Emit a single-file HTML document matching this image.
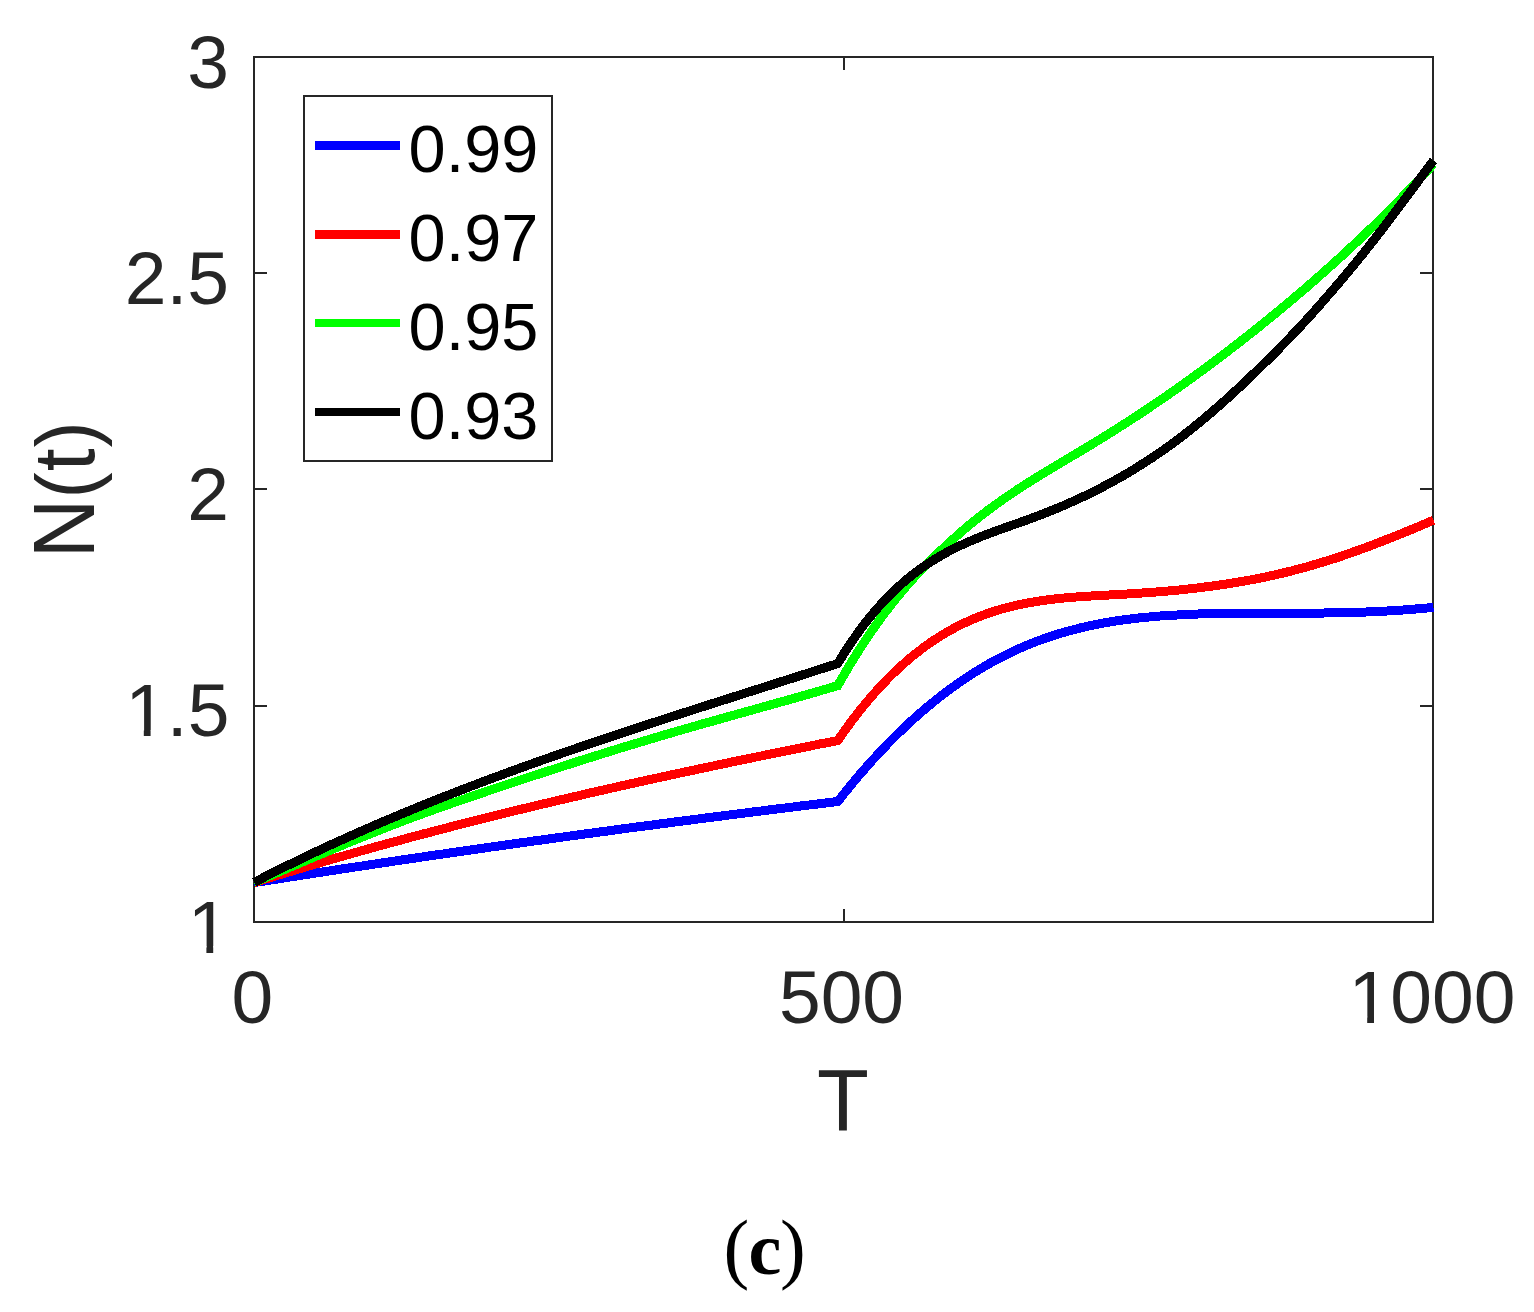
<!DOCTYPE html>
<html lang="en">
<head>
<meta charset="utf-8">
<title>N(t) versus T</title>
<style>
html,body{margin:0;padding:0;background:#fff;}
body{width:1534px;height:1312px;overflow:hidden;}
svg{display:block;}
text{font-family:"Liberation Sans",sans-serif;}
.tk{font-size:75px;fill:#262626;}
.lb{font-size:82.5px;fill:#262626;}
.lg{font-size:66.7px;fill:#000;}
.cp{font-family:"Liberation Serif",serif;fill:#000;}
</style>
</head>
<body>
<svg width="1534" height="1312" viewBox="0 0 1534 1312">
<rect x="0" y="0" width="1534" height="1312" fill="#ffffff"/>
<g fill="none" stroke="#262626" stroke-width="2" shape-rendering="crispEdges">
<rect x="254" y="57" width="1179" height="865"/>
<line x1="844" y1="922" x2="844" y2="909"/>
<line x1="844" y1="57" x2="844" y2="70"/>
<line x1="254" y1="273" x2="267" y2="273"/>
<line x1="1433" y1="273" x2="1420" y2="273"/>
<line x1="254" y1="489" x2="267" y2="489"/>
<line x1="1433" y1="489" x2="1420" y2="489"/>
<line x1="254" y1="706" x2="267" y2="706"/>
<line x1="1433" y1="706" x2="1420" y2="706"/>
</g>
<g fill="none" stroke-width="9" stroke-linejoin="miter" stroke-linecap="butt" shape-rendering="crispEdges">
<path stroke="#0000ff" d="M254.0 882.7 L257.0 882.2 L260.0 881.7 L263.0 881.3 L266.0 880.8 L269.0 880.3 L272.0 879.9 L275.0 879.4 L278.0 878.9 L281.0 878.4 L284.0 878.0 L287.0 877.5 L290.0 877.0 L293.0 876.6 L296.0 876.1 L299.0 875.6 L302.0 875.2 L305.0 874.7 L308.0 874.2 L311.0 873.8 L314.0 873.3 L317.0 872.8 L320.0 872.4 L323.0 871.9 L326.0 871.4 L329.0 871.0 L332.0 870.5 L335.0 870.1 L338.0 869.6 L341.0 869.1 L344.0 868.7 L347.0 868.2 L350.0 867.8 L353.0 867.3 L356.0 866.9 L359.0 866.4 L362.0 866.0 L365.0 865.5 L368.0 865.1 L371.0 864.6 L374.0 864.2 L377.0 863.7 L380.0 863.3 L383.0 862.8 L386.0 862.4 L389.0 861.9 L392.0 861.5 L395.0 861.0 L398.0 860.6 L401.0 860.1 L404.0 859.7 L407.0 859.2 L410.0 858.8 L413.0 858.3 L416.0 857.9 L419.0 857.5 L422.0 857.0 L425.0 856.6 L428.0 856.1 L431.0 855.7 L434.0 855.3 L437.0 854.8 L440.0 854.4 L443.0 854.0 L446.0 853.5 L449.0 853.1 L452.0 852.6 L455.0 852.2 L458.0 851.8 L461.0 851.3 L464.0 850.9 L467.0 850.5 L470.0 850.1 L473.0 849.6 L476.0 849.2 L479.0 848.8 L482.0 848.3 L485.0 847.9 L488.0 847.5 L491.0 847.0 L494.0 846.6 L497.0 846.2 L500.0 845.8 L503.0 845.3 L506.0 844.9 L509.0 844.5 L512.0 844.1 L515.0 843.7 L518.0 843.2 L521.0 842.8 L524.0 842.4 L527.0 842.0 L530.0 841.6 L533.0 841.1 L536.0 840.7 L539.0 840.3 L542.0 839.9 L545.0 839.5 L548.0 839.1 L551.0 838.6 L554.0 838.2 L557.0 837.8 L560.0 837.4 L563.0 837.0 L566.0 836.6 L569.0 836.2 L572.0 835.7 L575.0 835.3 L578.0 834.9 L581.0 834.5 L584.0 834.1 L587.0 833.7 L590.0 833.3 L593.0 832.9 L596.0 832.5 L599.0 832.1 L602.0 831.7 L605.0 831.3 L608.0 830.9 L611.0 830.5 L614.0 830.1 L617.0 829.6 L620.0 829.2 L623.0 828.8 L626.0 828.4 L629.0 828.0 L632.0 827.6 L635.0 827.2 L638.0 826.8 L641.0 826.4 L644.0 826.1 L647.0 825.7 L650.0 825.3 L653.0 824.9 L656.0 824.5 L659.0 824.1 L662.0 823.7 L665.0 823.3 L668.0 822.9 L671.0 822.5 L674.0 822.1 L677.0 821.7 L680.0 821.3 L683.0 820.9 L686.0 820.5 L689.0 820.2 L692.0 819.8 L695.0 819.4 L698.0 819.0 L701.0 818.6 L704.0 818.2 L707.0 817.8 L710.0 817.4 L713.0 817.1 L716.0 816.7 L719.0 816.3 L722.0 815.9 L725.0 815.5 L728.0 815.1 L731.0 814.8 L734.0 814.4 L737.0 814.0 L740.0 813.6 L743.0 813.2 L746.0 812.9 L749.0 812.5 L752.0 812.1 L755.0 811.7 L758.0 811.3 L761.0 811.0 L764.0 810.6 L767.0 810.2 L770.0 809.8 L773.0 809.5 L776.0 809.1 L779.0 808.7 L782.0 808.3 L785.0 808.0 L788.0 807.6 L791.0 807.2 L794.0 806.9 L797.0 806.5 L800.0 806.1 L803.0 805.7 L806.0 805.4 L809.0 805.0 L812.0 804.6 L815.0 804.3 L818.0 803.9 L821.0 803.5 L824.0 803.2 L827.0 802.8 L830.0 802.4 L833.0 802.1 L836.0 801.7 L837.8 801.5 L840.8 797.7 L843.8 793.9 L846.8 790.2 L849.8 786.5 L852.8 782.9 L855.8 779.3 L858.8 775.7 L861.8 772.3 L864.8 768.8 L867.8 765.4 L870.8 762.0 L873.8 758.7 L876.8 755.5 L879.8 752.2 L882.8 749.1 L885.8 745.9 L888.8 742.8 L891.8 739.8 L894.8 736.8 L897.8 733.8 L900.8 730.9 L903.8 728.0 L906.8 725.2 L909.8 722.4 L912.8 719.7 L915.8 717.0 L918.8 714.3 L921.8 711.7 L924.8 709.1 L927.8 706.6 L930.8 704.1 L933.8 701.7 L936.8 699.3 L939.8 696.9 L942.8 694.6 L945.8 692.3 L948.8 690.0 L951.8 687.8 L954.8 685.7 L957.8 683.6 L960.8 681.5 L963.8 679.4 L966.8 677.4 L969.8 675.5 L972.8 673.5 L975.8 671.6 L978.8 669.8 L981.8 668.0 L984.8 666.2 L987.8 664.5 L990.8 662.8 L993.8 661.1 L996.8 659.5 L999.8 657.9 L1002.8 656.4 L1005.8 654.9 L1008.8 653.4 L1011.8 652.0 L1014.8 650.6 L1017.8 649.2 L1020.8 647.9 L1023.8 646.6 L1026.8 645.3 L1029.8 644.1 L1032.8 642.9 L1035.8 641.7 L1038.8 640.6 L1041.8 639.5 L1044.8 638.4 L1047.8 637.4 L1050.8 636.4 L1053.8 635.4 L1056.8 634.4 L1059.8 633.5 L1062.8 632.6 L1065.8 631.8 L1068.8 630.9 L1071.8 630.1 L1074.8 629.3 L1077.8 628.6 L1080.8 627.8 L1083.8 627.1 L1086.8 626.4 L1089.8 625.8 L1092.8 625.1 L1095.8 624.5 L1098.8 623.9 L1101.8 623.4 L1104.8 622.8 L1107.8 622.3 L1110.8 621.8 L1113.8 621.3 L1116.8 620.8 L1119.8 620.4 L1122.8 620.0 L1125.8 619.6 L1128.8 619.2 L1131.8 618.8 L1134.8 618.4 L1137.8 618.1 L1140.8 617.8 L1143.8 617.5 L1146.8 617.2 L1149.8 616.9 L1152.8 616.6 L1155.8 616.4 L1158.8 616.1 L1161.8 615.9 L1164.8 615.7 L1167.8 615.5 L1170.8 615.3 L1173.8 615.1 L1176.8 615.0 L1179.8 614.8 L1182.8 614.7 L1185.8 614.5 L1188.8 614.4 L1191.8 614.3 L1194.8 614.2 L1197.8 614.0 L1200.8 613.9 L1203.8 613.9 L1206.8 613.8 L1209.8 613.7 L1212.8 613.6 L1215.8 613.6 L1218.8 613.5 L1221.8 613.4 L1224.8 613.4 L1227.8 613.3 L1230.8 613.3 L1233.8 613.3 L1236.8 613.2 L1239.8 613.2 L1242.8 613.2 L1245.8 613.2 L1248.8 613.2 L1251.8 613.1 L1254.8 613.1 L1257.8 613.1 L1260.8 613.1 L1263.8 613.1 L1266.8 613.1 L1269.8 613.1 L1272.8 613.1 L1275.8 613.1 L1278.8 613.1 L1281.8 613.1 L1284.8 613.1 L1287.8 613.1 L1290.8 613.1 L1293.8 613.1 L1296.8 613.1 L1299.8 613.1 L1302.8 613.1 L1305.8 613.1 L1308.8 613.1 L1311.8 613.0 L1314.8 613.0 L1317.8 613.0 L1320.8 613.0 L1323.8 613.0 L1326.8 612.9 L1329.8 612.9 L1332.8 612.9 L1335.8 612.8 L1338.8 612.8 L1341.8 612.7 L1344.8 612.6 L1347.8 612.6 L1350.8 612.5 L1353.8 612.4 L1356.8 612.3 L1359.8 612.2 L1362.8 612.1 L1365.8 612.0 L1368.8 611.9 L1371.8 611.8 L1374.8 611.7 L1377.8 611.5 L1380.8 611.4 L1383.8 611.2 L1386.8 611.0 L1389.8 610.9 L1392.8 610.7 L1395.8 610.5 L1398.8 610.3 L1401.8 610.1 L1404.8 609.9 L1407.8 609.7 L1410.8 609.4 L1413.8 609.2 L1416.8 608.9 L1419.8 608.7 L1422.8 608.4 L1425.8 608.1 L1428.8 607.9 L1431.8 607.6 L1433.5 607.4"/>
<path stroke="#ff0000" d="M254.0 882.6 L257.0 881.7 L260.0 880.7 L263.0 879.8 L266.0 878.9 L269.0 878.0 L272.0 877.0 L275.0 876.1 L278.0 875.2 L281.0 874.3 L284.0 873.4 L287.0 872.5 L290.0 871.6 L293.0 870.7 L296.0 869.8 L299.0 868.9 L302.0 868.0 L305.0 867.1 L308.0 866.2 L311.0 865.3 L314.0 864.4 L317.0 863.6 L320.0 862.7 L323.0 861.8 L326.0 860.9 L329.0 860.1 L332.0 859.2 L335.0 858.3 L338.0 857.5 L341.0 856.6 L344.0 855.8 L347.0 854.9 L350.0 854.1 L353.0 853.2 L356.0 852.4 L359.0 851.5 L362.0 850.7 L365.0 849.8 L368.0 849.0 L371.0 848.2 L374.0 847.3 L377.0 846.5 L380.0 845.7 L383.0 844.9 L386.0 844.0 L389.0 843.2 L392.0 842.4 L395.0 841.6 L398.0 840.8 L401.0 840.0 L404.0 839.1 L407.0 838.3 L410.0 837.5 L413.0 836.7 L416.0 835.9 L419.0 835.1 L422.0 834.3 L425.0 833.5 L428.0 832.8 L431.0 832.0 L434.0 831.2 L437.0 830.4 L440.0 829.6 L443.0 828.8 L446.0 828.1 L449.0 827.3 L452.0 826.5 L455.0 825.7 L458.0 825.0 L461.0 824.2 L464.0 823.4 L467.0 822.7 L470.0 821.9 L473.0 821.2 L476.0 820.4 L479.0 819.6 L482.0 818.9 L485.0 818.1 L488.0 817.4 L491.0 816.6 L494.0 815.9 L497.0 815.2 L500.0 814.4 L503.0 813.7 L506.0 812.9 L509.0 812.2 L512.0 811.5 L515.0 810.7 L518.0 810.0 L521.0 809.3 L524.0 808.5 L527.0 807.8 L530.0 807.1 L533.0 806.4 L536.0 805.7 L539.0 804.9 L542.0 804.2 L545.0 803.5 L548.0 802.8 L551.0 802.1 L554.0 801.4 L557.0 800.7 L560.0 800.0 L563.0 799.3 L566.0 798.6 L569.0 797.9 L572.0 797.2 L575.0 796.5 L578.0 795.8 L581.0 795.1 L584.0 794.4 L587.0 793.7 L590.0 793.0 L593.0 792.3 L596.0 791.6 L599.0 790.9 L602.0 790.3 L605.0 789.6 L608.0 788.9 L611.0 788.2 L614.0 787.6 L617.0 786.9 L620.0 786.2 L623.0 785.5 L626.0 784.9 L629.0 784.2 L632.0 783.5 L635.0 782.9 L638.0 782.2 L641.0 781.5 L644.0 780.9 L647.0 780.2 L650.0 779.5 L653.0 778.9 L656.0 778.2 L659.0 777.6 L662.0 776.9 L665.0 776.3 L668.0 775.6 L671.0 775.0 L674.0 774.3 L677.0 773.7 L680.0 773.0 L683.0 772.4 L686.0 771.7 L689.0 771.1 L692.0 770.5 L695.0 769.8 L698.0 769.2 L701.0 768.5 L704.0 767.9 L707.0 767.3 L710.0 766.6 L713.0 766.0 L716.0 765.4 L719.0 764.7 L722.0 764.1 L725.0 763.5 L728.0 762.8 L731.0 762.2 L734.0 761.6 L737.0 761.0 L740.0 760.3 L743.0 759.7 L746.0 759.1 L749.0 758.5 L752.0 757.9 L755.0 757.2 L758.0 756.6 L761.0 756.0 L764.0 755.4 L767.0 754.8 L770.0 754.2 L773.0 753.5 L776.0 752.9 L779.0 752.3 L782.0 751.7 L785.0 751.1 L788.0 750.5 L791.0 749.9 L794.0 749.3 L797.0 748.7 L800.0 748.1 L803.0 747.5 L806.0 746.9 L809.0 746.3 L812.0 745.7 L815.0 745.0 L818.0 744.4 L821.0 743.8 L824.0 743.2 L827.0 742.7 L830.0 742.1 L833.0 741.5 L836.0 740.9 L837.8 740.5 L840.8 736.2 L843.8 731.9 L846.8 727.7 L849.8 723.6 L852.8 719.6 L855.8 715.7 L858.8 711.8 L861.8 708.1 L864.8 704.4 L867.8 700.8 L870.8 697.3 L873.8 693.9 L876.8 690.5 L879.8 687.2 L882.8 684.0 L885.8 680.9 L888.8 677.8 L891.8 674.8 L894.8 671.9 L897.8 669.1 L900.8 666.3 L903.8 663.6 L906.8 661.0 L909.8 658.4 L912.8 655.9 L915.8 653.5 L918.8 651.2 L921.8 648.9 L924.8 646.6 L927.8 644.5 L930.8 642.4 L933.8 640.3 L936.8 638.4 L939.8 636.5 L942.8 634.6 L945.8 632.8 L948.8 631.1 L951.8 629.4 L954.8 627.8 L957.8 626.2 L960.8 624.7 L963.8 623.3 L966.8 621.9 L969.8 620.5 L972.8 619.2 L975.8 618.0 L978.8 616.8 L981.8 615.6 L984.8 614.5 L987.8 613.4 L990.8 612.4 L993.8 611.4 L996.8 610.5 L999.8 609.6 L1002.8 608.7 L1005.8 607.9 L1008.8 607.1 L1011.8 606.4 L1014.8 605.7 L1017.8 605.0 L1020.8 604.3 L1023.8 603.7 L1026.8 603.1 L1029.8 602.6 L1032.8 602.1 L1035.8 601.6 L1038.8 601.1 L1041.8 600.6 L1044.8 600.2 L1047.8 599.8 L1050.8 599.4 L1053.8 599.1 L1056.8 598.8 L1059.8 598.4 L1062.8 598.1 L1065.8 597.9 L1068.8 597.6 L1071.8 597.3 L1074.8 597.1 L1077.8 596.9 L1080.8 596.7 L1083.8 596.5 L1086.8 596.3 L1089.8 596.1 L1092.8 595.9 L1095.8 595.7 L1098.8 595.5 L1101.8 595.4 L1104.8 595.2 L1107.8 595.1 L1110.8 594.9 L1113.8 594.7 L1116.8 594.6 L1119.8 594.4 L1122.8 594.2 L1125.8 594.1 L1128.8 593.9 L1131.8 593.7 L1134.8 593.5 L1137.8 593.3 L1140.8 593.1 L1143.8 592.9 L1146.8 592.7 L1149.8 592.5 L1152.8 592.2 L1155.8 592.0 L1158.8 591.8 L1161.8 591.5 L1164.8 591.3 L1167.8 591.0 L1170.8 590.7 L1173.8 590.4 L1176.8 590.2 L1179.8 589.9 L1182.8 589.5 L1185.8 589.2 L1188.8 588.9 L1191.8 588.6 L1194.8 588.2 L1197.8 587.9 L1200.8 587.5 L1203.8 587.1 L1206.8 586.8 L1209.8 586.4 L1212.8 586.0 L1215.8 585.5 L1218.8 585.1 L1221.8 584.7 L1224.8 584.2 L1227.8 583.8 L1230.8 583.3 L1233.8 582.8 L1236.8 582.3 L1239.8 581.8 L1242.8 581.3 L1245.8 580.8 L1248.8 580.2 L1251.8 579.7 L1254.8 579.1 L1257.8 578.5 L1260.8 577.9 L1263.8 577.3 L1266.8 576.6 L1269.8 576.0 L1272.8 575.3 L1275.8 574.7 L1278.8 574.0 L1281.8 573.3 L1284.8 572.6 L1287.8 571.8 L1290.8 571.1 L1293.8 570.3 L1296.8 569.5 L1299.8 568.8 L1302.8 567.9 L1305.8 567.1 L1308.8 566.3 L1311.8 565.4 L1314.8 564.5 L1317.8 563.6 L1320.8 562.7 L1323.8 561.8 L1326.8 560.9 L1329.8 559.9 L1332.8 559.0 L1335.8 558.0 L1338.8 557.0 L1341.8 556.0 L1344.8 555.0 L1347.8 553.9 L1350.8 552.9 L1353.8 551.8 L1356.8 550.7 L1359.8 549.7 L1362.8 548.6 L1365.8 547.5 L1368.8 546.4 L1371.8 545.2 L1374.8 544.1 L1377.8 542.9 L1380.8 541.8 L1383.8 540.6 L1386.8 539.4 L1389.8 538.3 L1392.8 537.1 L1395.8 535.9 L1398.8 534.7 L1401.8 533.5 L1404.8 532.2 L1407.8 531.0 L1410.8 529.8 L1413.8 528.5 L1416.8 527.3 L1419.8 526.0 L1422.8 524.7 L1425.8 523.5 L1428.8 522.2 L1431.8 520.9 L1433.5 520.2"/>
<path stroke="#00ff00" d="M254.0 882.5 L257.0 881.2 L260.0 880.0 L263.0 878.7 L266.0 877.4 L269.0 876.2 L272.0 874.9 L275.0 873.6 L278.0 872.3 L281.0 871.1 L284.0 869.8 L287.0 868.5 L290.0 867.2 L293.0 866.0 L296.0 864.7 L299.0 863.4 L302.0 862.1 L305.0 860.9 L308.0 859.6 L311.0 858.3 L314.0 857.0 L317.0 855.8 L320.0 854.5 L323.0 853.3 L326.0 852.0 L329.0 850.7 L332.0 849.5 L335.0 848.2 L338.0 847.0 L341.0 845.7 L344.0 844.5 L347.0 843.2 L350.0 842.0 L353.0 840.8 L356.0 839.5 L359.0 838.3 L362.0 837.1 L365.0 835.9 L368.0 834.7 L371.0 833.5 L374.0 832.3 L377.0 831.1 L380.0 829.9 L383.0 828.7 L386.0 827.5 L389.0 826.4 L392.0 825.2 L395.0 824.1 L398.0 822.9 L401.0 821.8 L404.0 820.6 L407.0 819.5 L410.0 818.4 L413.0 817.2 L416.0 816.1 L419.0 815.0 L422.0 813.9 L425.0 812.8 L428.0 811.7 L431.0 810.6 L434.0 809.6 L437.0 808.5 L440.0 807.4 L443.0 806.4 L446.0 805.3 L449.0 804.3 L452.0 803.2 L455.0 802.2 L458.0 801.1 L461.0 800.1 L464.0 799.1 L467.0 798.1 L470.0 797.0 L473.0 796.0 L476.0 795.0 L479.0 794.0 L482.0 793.0 L485.0 791.9 L488.0 790.9 L491.0 789.9 L494.0 788.9 L497.0 787.9 L500.0 786.9 L503.0 785.9 L506.0 784.9 L509.0 783.9 L512.0 782.9 L515.0 781.9 L518.0 780.9 L521.0 779.9 L524.0 778.9 L527.0 777.9 L530.0 776.9 L533.0 775.9 L536.0 774.9 L539.0 774.0 L542.0 773.0 L545.0 772.0 L548.0 771.0 L551.0 770.1 L554.0 769.1 L557.0 768.1 L560.0 767.1 L563.0 766.2 L566.0 765.2 L569.0 764.3 L572.0 763.3 L575.0 762.3 L578.0 761.4 L581.0 760.4 L584.0 759.5 L587.0 758.5 L590.0 757.6 L593.0 756.6 L596.0 755.7 L599.0 754.8 L602.0 753.8 L605.0 752.9 L608.0 752.0 L611.0 751.0 L614.0 750.1 L617.0 749.2 L620.0 748.2 L623.0 747.3 L626.0 746.4 L629.0 745.5 L632.0 744.6 L635.0 743.7 L638.0 742.8 L641.0 741.9 L644.0 741.0 L647.0 740.1 L650.0 739.2 L653.0 738.3 L656.0 737.4 L659.0 736.5 L662.0 735.6 L665.0 734.7 L668.0 733.8 L671.0 733.0 L674.0 732.1 L677.0 731.2 L680.0 730.4 L683.0 729.5 L686.0 728.6 L689.0 727.8 L692.0 726.9 L695.0 726.1 L698.0 725.2 L701.0 724.3 L704.0 723.5 L707.0 722.6 L710.0 721.8 L713.0 721.0 L716.0 720.1 L719.0 719.3 L722.0 718.4 L725.0 717.6 L728.0 716.7 L731.0 715.9 L734.0 715.1 L737.0 714.2 L740.0 713.4 L743.0 712.6 L746.0 711.7 L749.0 710.9 L752.0 710.1 L755.0 709.2 L758.0 708.4 L761.0 707.5 L764.0 706.7 L767.0 705.9 L770.0 705.0 L773.0 704.2 L776.0 703.3 L779.0 702.5 L782.0 701.7 L785.0 700.8 L788.0 700.0 L791.0 699.1 L794.0 698.3 L797.0 697.4 L800.0 696.6 L803.0 695.7 L806.0 694.9 L809.0 694.0 L812.0 693.1 L815.0 692.3 L818.0 691.4 L821.0 690.5 L824.0 689.7 L827.0 688.8 L830.0 687.9 L833.0 687.0 L836.0 686.1 L837.8 685.6 L840.8 680.3 L843.8 675.1 L846.8 670.0 L849.8 664.9 L852.8 660.0 L855.8 655.2 L858.8 650.4 L861.8 645.8 L864.8 641.2 L867.8 636.7 L870.8 632.3 L873.8 628.0 L876.8 623.8 L879.8 619.6 L882.8 615.6 L885.8 611.6 L888.8 607.7 L891.8 603.8 L894.8 600.1 L897.8 596.4 L900.8 592.8 L903.8 589.2 L906.8 585.7 L909.8 582.3 L912.8 579.0 L915.8 575.7 L918.8 572.5 L921.8 569.3 L924.8 566.2 L927.8 563.2 L930.8 560.2 L933.8 557.2 L936.8 554.3 L939.8 551.5 L942.8 548.6 L945.8 545.8 L948.8 543.0 L951.8 540.3 L954.8 537.6 L957.8 534.9 L960.8 532.3 L963.8 529.7 L966.8 527.1 L969.8 524.6 L972.8 522.2 L975.8 519.7 L978.8 517.4 L981.8 515.0 L984.8 512.7 L987.8 510.4 L990.8 508.2 L993.8 506.0 L996.8 503.8 L999.8 501.7 L1002.8 499.5 L1005.8 497.5 L1008.8 495.4 L1011.8 493.4 L1014.8 491.4 L1017.8 489.4 L1020.8 487.4 L1023.8 485.5 L1026.8 483.6 L1029.8 481.7 L1032.8 479.8 L1035.8 477.9 L1038.8 476.1 L1041.8 474.2 L1044.8 472.4 L1047.8 470.6 L1050.8 468.8 L1053.8 467.0 L1056.8 465.2 L1059.8 463.4 L1062.8 461.6 L1065.8 459.8 L1068.8 458.0 L1071.8 456.2 L1074.8 454.5 L1077.8 452.7 L1080.8 450.9 L1083.8 449.1 L1086.8 447.3 L1089.8 445.5 L1092.8 443.7 L1095.8 441.9 L1098.8 440.0 L1101.8 438.2 L1104.8 436.3 L1107.8 434.5 L1110.8 432.6 L1113.8 430.7 L1116.8 428.8 L1119.8 426.9 L1122.8 425.0 L1125.8 423.1 L1128.8 421.1 L1131.8 419.2 L1134.8 417.2 L1137.8 415.3 L1140.8 413.3 L1143.8 411.3 L1146.8 409.3 L1149.8 407.3 L1152.8 405.2 L1155.8 403.2 L1158.8 401.2 L1161.8 399.1 L1164.8 397.1 L1167.8 395.0 L1170.8 392.9 L1173.8 390.8 L1176.8 388.7 L1179.8 386.6 L1182.8 384.4 L1185.8 382.3 L1188.8 380.2 L1191.8 378.0 L1194.8 375.8 L1197.8 373.6 L1200.8 371.5 L1203.8 369.3 L1206.8 367.0 L1209.8 364.8 L1212.8 362.6 L1215.8 360.3 L1218.8 358.1 L1221.8 355.8 L1224.8 353.5 L1227.8 351.2 L1230.8 348.9 L1233.8 346.6 L1236.8 344.3 L1239.8 342.0 L1242.8 339.6 L1245.8 337.3 L1248.8 334.9 L1251.8 332.6 L1254.8 330.2 L1257.8 327.8 L1260.8 325.4 L1263.8 322.9 L1266.8 320.5 L1269.8 318.1 L1272.8 315.6 L1275.8 313.2 L1278.8 310.7 L1281.8 308.2 L1284.8 305.7 L1287.8 303.2 L1290.8 300.7 L1293.8 298.1 L1296.8 295.6 L1299.8 293.0 L1302.8 290.5 L1305.8 287.9 L1308.8 285.3 L1311.8 282.7 L1314.8 280.1 L1317.8 277.4 L1320.8 274.8 L1323.8 272.1 L1326.8 269.5 L1329.8 266.8 L1332.8 264.1 L1335.8 261.3 L1338.8 258.6 L1341.8 255.9 L1344.8 253.1 L1347.8 250.3 L1350.8 247.5 L1353.8 244.7 L1356.8 241.9 L1359.8 239.1 L1362.8 236.2 L1365.8 233.3 L1368.8 230.5 L1371.8 227.6 L1374.8 224.6 L1377.8 221.7 L1380.8 218.7 L1383.8 215.8 L1386.8 212.8 L1389.8 209.8 L1392.8 206.8 L1395.8 203.7 L1398.8 200.7 L1401.8 197.6 L1404.8 194.5 L1407.8 191.4 L1410.8 188.2 L1413.8 185.1 L1416.8 181.9 L1419.8 178.7 L1422.8 175.5 L1425.8 172.3 L1428.8 169.0 L1431.8 165.8 L1433.5 163.9"/>
<path stroke="#000000" d="M254.0 882.4 L257.0 880.9 L260.0 879.3 L263.0 877.8 L266.0 876.2 L269.0 874.7 L272.0 873.2 L275.0 871.7 L278.0 870.2 L281.0 868.7 L284.0 867.2 L287.0 865.7 L290.0 864.3 L293.0 862.8 L296.0 861.4 L299.0 859.9 L302.0 858.5 L305.0 857.0 L308.0 855.6 L311.0 854.2 L314.0 852.7 L317.0 851.3 L320.0 849.9 L323.0 848.5 L326.0 847.1 L329.0 845.7 L332.0 844.3 L335.0 843.0 L338.0 841.6 L341.0 840.2 L344.0 838.9 L347.0 837.5 L350.0 836.2 L353.0 834.8 L356.0 833.5 L359.0 832.2 L362.0 830.8 L365.0 829.5 L368.0 828.2 L371.0 826.9 L374.0 825.6 L377.0 824.3 L380.0 823.0 L383.0 821.7 L386.0 820.5 L389.0 819.2 L392.0 817.9 L395.0 816.7 L398.0 815.4 L401.0 814.1 L404.0 812.9 L407.0 811.7 L410.0 810.4 L413.0 809.2 L416.0 808.0 L419.0 806.7 L422.0 805.5 L425.0 804.3 L428.0 803.1 L431.0 801.9 L434.0 800.7 L437.0 799.5 L440.0 798.3 L443.0 797.1 L446.0 795.9 L449.0 794.8 L452.0 793.6 L455.0 792.4 L458.0 791.3 L461.0 790.1 L464.0 788.9 L467.0 787.8 L470.0 786.6 L473.0 785.5 L476.0 784.4 L479.0 783.2 L482.0 782.1 L485.0 781.0 L488.0 779.8 L491.0 778.7 L494.0 777.6 L497.0 776.5 L500.0 775.4 L503.0 774.3 L506.0 773.2 L509.0 772.1 L512.0 771.0 L515.0 769.9 L518.0 768.8 L521.0 767.7 L524.0 766.6 L527.0 765.6 L530.0 764.5 L533.0 763.4 L536.0 762.4 L539.0 761.3 L542.0 760.2 L545.0 759.2 L548.0 758.1 L551.0 757.1 L554.0 756.0 L557.0 755.0 L560.0 753.9 L563.0 752.9 L566.0 751.8 L569.0 750.8 L572.0 749.8 L575.0 748.8 L578.0 747.7 L581.0 746.7 L584.0 745.7 L587.0 744.7 L590.0 743.6 L593.0 742.6 L596.0 741.6 L599.0 740.6 L602.0 739.6 L605.0 738.6 L608.0 737.6 L611.0 736.6 L614.0 735.6 L617.0 734.6 L620.0 733.6 L623.0 732.6 L626.0 731.6 L629.0 730.6 L632.0 729.6 L635.0 728.6 L638.0 727.6 L641.0 726.7 L644.0 725.7 L647.0 724.7 L650.0 723.7 L653.0 722.7 L656.0 721.8 L659.0 720.8 L662.0 719.8 L665.0 718.8 L668.0 717.9 L671.0 716.9 L674.0 715.9 L677.0 715.0 L680.0 714.0 L683.0 713.0 L686.0 712.1 L689.0 711.1 L692.0 710.1 L695.0 709.2 L698.0 708.2 L701.0 707.2 L704.0 706.3 L707.0 705.3 L710.0 704.4 L713.0 703.4 L716.0 702.5 L719.0 701.5 L722.0 700.5 L725.0 699.6 L728.0 698.6 L731.0 697.7 L734.0 696.7 L737.0 695.8 L740.0 694.8 L743.0 693.9 L746.0 692.9 L749.0 691.9 L752.0 691.0 L755.0 690.0 L758.0 689.1 L761.0 688.1 L764.0 687.2 L767.0 686.2 L770.0 685.3 L773.0 684.3 L776.0 683.3 L779.0 682.4 L782.0 681.4 L785.0 680.5 L788.0 679.5 L791.0 678.6 L794.0 677.6 L797.0 676.6 L800.0 675.7 L803.0 674.7 L806.0 673.8 L809.0 672.8 L812.0 671.8 L815.0 670.9 L818.0 669.9 L821.0 668.9 L824.0 668.0 L827.0 667.0 L830.0 666.0 L833.0 665.1 L836.0 664.1 L837.8 663.5 L840.8 658.6 L843.8 653.7 L846.8 649.1 L849.8 644.5 L852.8 640.1 L855.8 635.8 L858.8 631.6 L861.8 627.5 L864.8 623.6 L867.8 619.8 L870.8 616.1 L873.8 612.5 L876.8 609.0 L879.8 605.6 L882.8 602.3 L885.8 599.1 L888.8 596.0 L891.8 593.0 L894.8 590.1 L897.8 587.3 L900.8 584.6 L903.8 582.0 L906.8 579.4 L909.8 577.0 L912.8 574.6 L915.8 572.3 L918.8 570.0 L921.8 567.9 L924.8 565.8 L927.8 563.8 L930.8 561.8 L933.8 559.9 L936.8 558.1 L939.8 556.3 L942.8 554.6 L945.8 552.9 L948.8 551.3 L951.8 549.8 L954.8 548.2 L957.8 546.8 L960.8 545.3 L963.8 544.0 L966.8 542.6 L969.8 541.3 L972.8 540.0 L975.8 538.8 L978.8 537.5 L981.8 536.3 L984.8 535.2 L987.8 534.0 L990.8 532.9 L993.8 531.8 L996.8 530.7 L999.8 529.6 L1002.8 528.5 L1005.8 527.4 L1008.8 526.4 L1011.8 525.3 L1014.8 524.3 L1017.8 523.2 L1020.8 522.1 L1023.8 521.1 L1026.8 520.0 L1029.8 518.9 L1032.8 517.8 L1035.8 516.7 L1038.8 515.5 L1041.8 514.4 L1044.8 513.2 L1047.8 512.0 L1050.8 510.8 L1053.8 509.6 L1056.8 508.4 L1059.8 507.1 L1062.8 505.9 L1065.8 504.6 L1068.8 503.2 L1071.8 501.9 L1074.8 500.6 L1077.8 499.2 L1080.8 497.8 L1083.8 496.4 L1086.8 494.9 L1089.8 493.5 L1092.8 492.0 L1095.8 490.5 L1098.8 489.0 L1101.8 487.4 L1104.8 485.8 L1107.8 484.2 L1110.8 482.6 L1113.8 481.0 L1116.8 479.3 L1119.8 477.6 L1122.8 475.9 L1125.8 474.2 L1128.8 472.4 L1131.8 470.6 L1134.8 468.8 L1137.8 466.9 L1140.8 465.0 L1143.8 463.1 L1146.8 461.2 L1149.8 459.2 L1152.8 457.3 L1155.8 455.2 L1158.8 453.2 L1161.8 451.1 L1164.8 449.0 L1167.8 446.9 L1170.8 444.7 L1173.8 442.5 L1176.8 440.3 L1179.8 438.0 L1182.8 435.8 L1185.8 433.4 L1188.8 431.1 L1191.8 428.7 L1194.8 426.3 L1197.8 423.8 L1200.8 421.4 L1203.8 418.9 L1206.8 416.3 L1209.8 413.8 L1212.8 411.2 L1215.8 408.6 L1218.8 406.0 L1221.8 403.3 L1224.8 400.6 L1227.8 397.9 L1230.8 395.2 L1233.8 392.4 L1236.8 389.7 L1239.8 386.9 L1242.8 384.0 L1245.8 381.2 L1248.8 378.4 L1251.8 375.5 L1254.8 372.6 L1257.8 369.7 L1260.8 366.8 L1263.8 363.8 L1266.8 360.9 L1269.8 357.9 L1272.8 354.9 L1275.8 351.9 L1278.8 348.9 L1281.8 345.8 L1284.8 342.8 L1287.8 339.7 L1290.8 336.6 L1293.8 333.4 L1296.8 330.2 L1299.8 327.0 L1302.8 323.8 L1305.8 320.6 L1308.8 317.3 L1311.8 313.9 L1314.8 310.6 L1317.8 307.2 L1320.8 303.8 L1323.8 300.4 L1326.8 296.9 L1329.8 293.5 L1332.8 290.0 L1335.8 286.5 L1338.8 283.0 L1341.8 279.4 L1344.8 275.9 L1347.8 272.3 L1350.8 268.7 L1353.8 265.1 L1356.8 261.4 L1359.8 257.7 L1362.8 254.0 L1365.8 250.2 L1368.8 246.4 L1371.8 242.6 L1374.8 238.8 L1377.8 234.9 L1380.8 231.0 L1383.8 227.1 L1386.8 223.1 L1389.8 219.1 L1392.8 215.2 L1395.8 211.2 L1398.8 207.2 L1401.8 203.1 L1404.8 199.1 L1407.8 195.1 L1410.8 191.0 L1413.8 187.0 L1416.8 183.0 L1419.8 178.9 L1422.8 174.9 L1425.8 170.9 L1428.8 166.9 L1431.8 162.9 L1433.5 160.6"/>
</g>
<rect x="304" y="96" width="248" height="365" fill="#ffffff" stroke="#262626" stroke-width="2" shape-rendering="crispEdges"/>
<g shape-rendering="crispEdges">
<rect x="315" y="141" width="85" height="9" fill="#0000ff"/>
<rect x="315" y="230" width="85" height="9" fill="#ff0000"/>
<rect x="315" y="319" width="85" height="8" fill="#00ff00"/>
<rect x="315" y="408" width="85" height="8" fill="#000000"/>
</g>
<text class="lg" text-anchor="start" transform="translate(408.60,172.30)">0.99</text>
<text class="lg" text-anchor="start" transform="translate(408.60,261.30)">0.97</text>
<text class="lg" text-anchor="start" transform="translate(408.60,350.20)">0.95</text>
<text class="lg" text-anchor="start" transform="translate(408.60,439.10)">0.93</text>
<text class="tk" text-anchor="end" transform="translate(229.00,87.70)">3</text>
<text class="tk" text-anchor="end" transform="translate(229.00,303.95)">2.5</text>
<text class="tk" text-anchor="end" transform="translate(229.00,520.20)">2</text>
<clipPath id="ca"><rect x="121.2" y="674.5" width="135.1" height="55.4"/><rect x="143.8" y="728.9" width="6.8" height="9.0"/><rect x="164.7" y="728.9" width="95.6" height="12.0"/></clipPath>
<g clip-path="url(#ca)">
<text class="tk" text-anchor="start" transform="translate(125.15,736.45)">1.5</text>
</g>
<clipPath id="cb"><rect x="183.7" y="890.7" width="51.7" height="55.4"/><rect x="206.4" y="945.1" width="6.8" height="9.0"/><rect x="227.2" y="945.1" width="12.2" height="12.0"/></clipPath>
<g clip-path="url(#cb)">
<text class="tk" text-anchor="start" transform="translate(187.70,952.70)">1</text>
</g>
<text class="tk" text-anchor="middle" transform="translate(252.30,1023.20)">0</text>
<text class="tk" text-anchor="middle" transform="translate(841.50,1023.20)">500</text>
<clipPath id="cd"><rect x="1344.5" y="961.2" width="176.8" height="55.4"/><rect x="1367.2" y="1015.6" width="6.8" height="9.0"/><rect x="1388.0" y="1015.6" width="137.3" height="12.0"/></clipPath>
<g clip-path="url(#cd)">
<text class="tk" text-anchor="start" transform="translate(1348.50,1023.20)">1000</text>
</g>
<text class="lb" text-anchor="middle" transform="translate(843.00,1130.00) scale(1.03,1.06)">T</text>
<text class="lb" transform="translate(94,489.5) rotate(-90) scale(1,1.05)" x="-68.75 -9.0 18.3 42.0" dy="0 1 -1 1">N<tspan font-size="78.6px">(</tspan>t<tspan font-size="78.6px">)</tspan></text>
<text class="cp" y="1274" font-size="77.3px"><tspan x="723.6">(</tspan><tspan x="748.4" font-size="74px" font-weight="bold">c</tspan><tspan x="780">)</tspan></text>
</svg>
</body>
</html>
